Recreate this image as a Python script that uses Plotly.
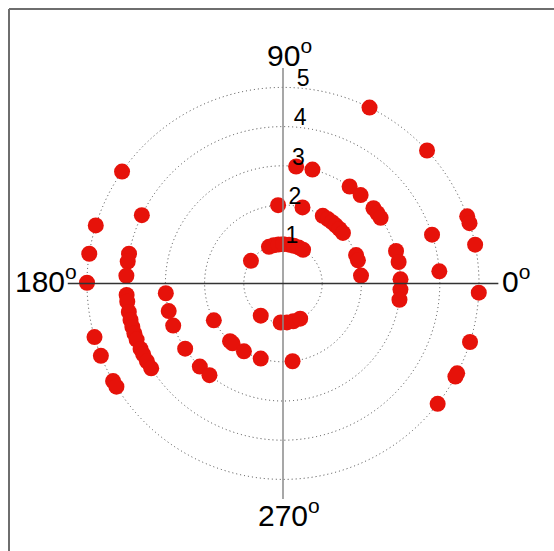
import plotly.graph_objects as go

# ---- data (radius rings and angles in degrees) ----
theta_r5 = [63.8, 42.7, 20.0, 17.9, 11.4, 357.3, 342.6, 332.7, 331.6, 322.1,
            145.2, 162.8, 171.3, 179.8, 195.9, 201.7, 209.9, 211.8]
theta_r4 = [18.1, 4.4, 154.2, 169.1, 172.0, 177.2,
            184.2, 186.7, 190.5, 193.5, 196.1, 198.6, 201.0, 204.7, 206.9, 209.8, 212.8]
theta_r3 = [83.6, 75.5, 55.5, 48.7, 39.7, 36.6, 33.9, 16.0, 10.5, 2.0, 357.0, 352.0,
            184.8, 193.6, 201.0, 213.7, 225.0, 231.3]
theta_r2 = [93.6, 75.6, 59.5, 55.1, 51.3, 47.8, 44.0, 40.1, 21.2, 17.1, 5.7,
            208.1, 227.5, 229.9, 240.1, 253.5, 277.0]
theta_r1 = [111.0, 103.8, 96.7, 89.6, 81.1, 74.0, 66.5, 59.2, 144.9,
            235.4, 266.6, 275.8, 285.2, 296.0]

ring_radii = [1, 2, 3, 4, 5]
ring_labels = ["1", "2", "3", "4", "5"]
angle_ticks = [0, 90, 180, 270]
angle_labels = ["0<sup>o</sup>", "90<sup>o</sup>", "180<sup>o</sup>", "270<sup>o</sup>"]

theta = theta_r1 + theta_r2 + theta_r3 + theta_r4 + theta_r5
r = ([1] * len(theta_r1) + [2] * len(theta_r2) + [3] * len(theta_r3)
     + [4] * len(theta_r4) + [5] * len(theta_r5))

RMAX = 5.5
FONT = "Liberation Sans, Arial, sans-serif"
W, H = 554, 551

fig = go.Figure()

fig.add_trace(go.Scatterpolar(
    r=r, theta=theta, mode="markers",
    marker=dict(size=16, color="rgb(230,18,10)", line=dict(width=0)),
    showlegend=False, hoverinfo="skip"))

# axis lines through the centre
fig.add_trace(go.Scatterpolar(
    r=[RMAX, 0, RMAX], theta=[90, 90, 270], mode="lines",
    line=dict(color="#8a8a8a", width=1.5), showlegend=False, hoverinfo="skip"))
fig.add_trace(go.Scatterpolar(
    r=[RMAX, 0, RMAX], theta=[0, 0, 180], mode="lines",
    line=dict(color="#333333", width=1.5), showlegend=False, hoverinfo="skip"))

# radial labels
fig.add_trace(go.Scatterpolar(
    r=[v + 0.2 for v in ring_radii], theta=[79, 82, 83, 84, 84.3],
    mode="text", text=ring_labels, textposition="middle center",
    textfont=dict(family=FONT, size=23, color="black"),
    showlegend=False, hoverinfo="skip", cliponaxis=False))

# angle labels (outside the radial range, so placed as annotations)
ann_pos = {
    0: dict(x=500 / W, y=1 - 279 / H, xanchor="left", yanchor="middle"),
    90: dict(x=289 / W, y=1 - 53 / H, xanchor="center", yanchor="middle"),
    180: dict(x=79 / W, y=1 - 279 / H, xanchor="right", yanchor="middle"),
    270: dict(x=289 / W, y=1 - 513 / H, xanchor="center", yanchor="middle"),
}
annotations = []
for a, txt in zip(angle_ticks, angle_labels):
    annotations.append(dict(text=txt, xref="paper", yref="paper", showarrow=False,
                            font=dict(family=FONT, size=30, color="black"),
                            **ann_pos[a]))

fig.update_layout(
    width=W, height=H,
    margin=dict(l=0, r=0, t=0, b=0),
    paper_bgcolor="white", plot_bgcolor="white",
    polar=dict(
        domain=dict(x=[67.4 / W, 498.6 / W], y=[52 / H, 483.2 / H]),
        bgcolor="white",
        radialaxis=dict(range=[0, RMAX], tickvals=ring_radii, showticklabels=False,
                        showline=False, ticks="", gridcolor="#444444",
                        griddash="1px,3px", gridwidth=1),
        angularaxis=dict(tickvals=angle_ticks, showticklabels=False, showline=False,
                         ticks="", showgrid=False, direction="counterclockwise",
                         rotation=0),
    ),
    annotations=annotations,
    shapes=[
        dict(type="line", xref="paper", yref="paper", x0=9 / W, x1=1.0,
             y0=1 - 9 / H, y1=1 - 9 / H, line=dict(color="#6e6e6e", width=2)),
        dict(type="line", xref="paper", yref="paper", x0=9 / W, x1=9 / W,
             y0=0, y1=1 - 9 / H, line=dict(color="#6e6e6e", width=2)),
    ],
)

fig.write_html("out.html")
